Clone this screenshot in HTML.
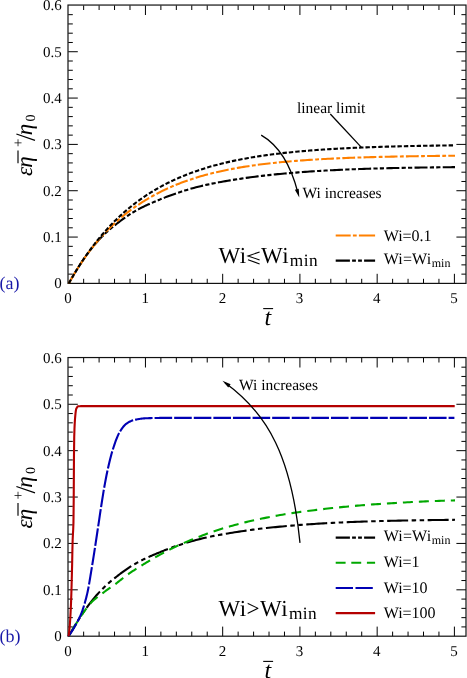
<!DOCTYPE html>
<html><head><meta charset="utf-8"><title>chart</title>
<style>html,body{margin:0;padding:0;background:#fff;overflow:hidden}svg{display:block;will-change:transform}text{font-family:"Liberation Serif",serif;text-rendering:geometricPrecision}</style></head>
<body>
<svg width="467" height="678" viewBox="0 0 467 678">
<rect width="467" height="678" fill="#fff"/>
<g font-family="'Liberation Serif', serif">
<path d="M83.65,283.4v-4.6M83.65,5.4v4.6M99.1,283.4v-4.6M99.1,5.4v4.6M114.54,283.4v-4.6M114.54,5.4v4.6M129.99,283.4v-4.6M129.99,5.4v4.6M145.44,283.4v-9.6M145.44,5.4v9.6M160.89,283.4v-4.6M160.89,5.4v4.6M176.34,283.4v-4.6M176.34,5.4v4.6M191.78,283.4v-4.6M191.78,5.4v4.6M207.23,283.4v-4.6M207.23,5.4v4.6M222.68,283.4v-9.6M222.68,5.4v9.6M238.13,283.4v-4.6M238.13,5.4v4.6M253.58,283.4v-4.6M253.58,5.4v4.6M269.02,283.4v-4.6M269.02,5.4v4.6M284.47,283.4v-4.6M284.47,5.4v4.6M299.92,283.4v-9.6M299.92,5.4v9.6M315.37,283.4v-4.6M315.37,5.4v4.6M330.82,283.4v-4.6M330.82,5.4v4.6M346.26,283.4v-4.6M346.26,5.4v4.6M361.71,283.4v-4.6M361.71,5.4v4.6M377.16,283.4v-9.6M377.16,5.4v9.6M392.61,283.4v-4.6M392.61,5.4v4.6M408.06,283.4v-4.6M408.06,5.4v4.6M423.5,283.4v-4.6M423.5,5.4v4.6M438.95,283.4v-4.6M438.95,5.4v4.6M454.4,283.4v-9.6M454.4,5.4v9.6M68.2,274.13h4.6M466,274.13h-4.6M68.2,264.87h4.6M466,264.87h-4.6M68.2,255.6h4.6M466,255.6h-4.6M68.2,246.33h4.6M466,246.33h-4.6M68.2,237.07h9.6M466,237.07h-9.6M68.2,227.8h4.6M466,227.8h-4.6M68.2,218.53h4.6M466,218.53h-4.6M68.2,209.27h4.6M466,209.27h-4.6M68.2,200h4.6M466,200h-4.6M68.2,190.73h9.6M466,190.73h-9.6M68.2,181.47h4.6M466,181.47h-4.6M68.2,172.2h4.6M466,172.2h-4.6M68.2,162.93h4.6M466,162.93h-4.6M68.2,153.67h4.6M466,153.67h-4.6M68.2,144.4h9.6M466,144.4h-9.6M68.2,135.13h4.6M466,135.13h-4.6M68.2,125.87h4.6M466,125.87h-4.6M68.2,116.6h4.6M466,116.6h-4.6M68.2,107.33h4.6M466,107.33h-4.6M68.2,98.07h9.6M466,98.07h-9.6M68.2,88.8h4.6M466,88.8h-4.6M68.2,79.53h4.6M466,79.53h-4.6M68.2,70.27h4.6M466,70.27h-4.6M68.2,61h4.6M466,61h-4.6M68.2,51.73h9.6M466,51.73h-9.6M68.2,42.47h4.6M466,42.47h-4.6M68.2,33.2h4.6M466,33.2h-4.6M68.2,23.93h4.6M466,23.93h-4.6M68.2,14.67h4.6M466,14.67h-4.6" stroke="#000" stroke-width="1.0" fill="none"/>
<rect x="68" y="5.05" width="398" height="278.35" fill="none" stroke="#111" stroke-width="1.2"/>
<text x="67.9" y="303.4" font-size="15" text-anchor="middle" fill="#000">0</text>
<text x="145.14" y="303.4" font-size="15" text-anchor="middle" fill="#000">1</text>
<text x="222.38" y="303.4" font-size="15" text-anchor="middle" fill="#000">2</text>
<text x="299.62" y="303.4" font-size="15" text-anchor="middle" fill="#000">3</text>
<text x="376.86" y="303.4" font-size="15" text-anchor="middle" fill="#000">4</text>
<text x="454.1" y="303.4" font-size="15" text-anchor="middle" fill="#000">5</text>
<text x="61.8" y="288.4" font-size="15" text-anchor="end" fill="#000">0</text>
<text x="61.8" y="242.07" font-size="15" text-anchor="end" fill="#000">0.1</text>
<text x="61.8" y="195.73" font-size="15" text-anchor="end" fill="#000">0.2</text>
<text x="61.8" y="149.4" font-size="15" text-anchor="end" fill="#000">0.3</text>
<text x="61.8" y="103.07" font-size="15" text-anchor="end" fill="#000">0.4</text>
<text x="61.8" y="56.73" font-size="15" text-anchor="end" fill="#000">0.5</text>
<text x="61.8" y="10.4" font-size="15" text-anchor="end" fill="#000">0.6</text>
<text x="267.8" y="324.7" font-size="24" text-anchor="middle" fill="#000" font-style="italic">t</text>
<line x1="263.2" y1="308.6" x2="273.1" y2="308.6" stroke="#000" stroke-width="1.1"/>
<g transform="translate(32.3,175.4) rotate(-90)">
<text x="-0.5" y="0" font-size="23" font-style="italic">ε</text>
<text x="7.7" y="0" font-size="23" font-style="italic">η</text>
<line x1="12.2" y1="-14.3" x2="24.9" y2="-14.3" stroke="#000" stroke-width="1.15"/>
<text x="28.3" y="-9.0" font-size="15">+</text>
<line x1="35" y1="2.7" x2="41.4" y2="-15.9" stroke="#000" stroke-width="1.25"/>
<text x="40.1" y="0" font-size="23" font-style="italic">η</text>
<text x="54.0" y="2.7" font-size="14">0</text>
</g>
<g fill="none" stroke-width="2.1">
<path d="M68.8,283.4L69.06,282.93L69.32,282.47L69.58,282L69.84,281.54L70.1,281.08L70.36,280.62L70.62,280.16L70.88,279.7L71.14,279.25L71.4,278.8L71.66,278.34L71.92,277.89L72.18,277.45L72.45,277L72.71,276.55L72.97,276.11L73.23,275.67L73.49,275.23L73.75,274.79L74.01,274.35L74.27,273.91L74.53,273.48L74.79,273.05L75.05,272.61L75.31,272.18L75.57,271.75L75.83,271.33L76.09,270.9L76.35,270.48L76.61,270.06L76.87,269.63L77.13,269.21L77.39,268.8L77.65,268.38L77.91,267.96L78.17,267.55L78.43,267.14L78.69,266.73L78.95,266.32L79.21,265.91L79.47,265.5L79.74,265.1L80,264.69L80.26,264.29L80.52,263.89L80.78,263.49L81.04,263.09L81.3,262.7L81.56,262.3L81.82,261.91L82.08,261.52L82.34,261.14L82.6,260.75L82.86,260.37L83.12,259.98L83.38,259.6L83.64,259.23L83.9,258.85L84.16,258.48L84.42,258.1L84.68,257.73L84.94,257.36L85.2,256.99L85.46,256.63L85.72,256.26L85.98,255.9L86.24,255.54L86.5,255.18L86.76,254.82L87.03,254.47L87.29,254.11L87.55,253.76L87.81,253.41L88.07,253.06L88.33,252.71L88.59,252.36L88.85,252.02L89.11,251.67L89.37,251.33L89.63,250.99L89.89,250.65L90.15,250.31L90.41,249.97L90.67,249.64L90.93,249.3L91.19,248.97L91.45,248.63L91.71,248.3L91.97,247.97L92.69,247.07L93.41,246.19L94.13,245.32L94.85,244.46L95.56,243.62L96.28,242.8L97,241.98L97.72,241.18L98.44,240.39L99.16,239.61L99.88,238.85L100.59,238.09L101.31,237.35L102.03,236.61L102.75,235.89L103.47,235.17L104.19,234.47L104.91,233.77L105.62,233.08L106.34,232.4L107.06,231.75L107.78,231.1L108.5,230.47L109.22,229.85L109.93,229.25L110.65,228.65L111.37,228.06L112.09,227.47L112.81,226.89L113.53,226.32L114.25,225.75L114.96,225.18L115.68,224.61L116.4,224.04L117.12,223.48L117.84,222.92L118.56,222.36L119.28,221.81L119.99,221.26L120.71,220.72L121.43,220.18L122.15,219.65L122.87,219.12L123.59,218.6L124.31,218.09L125.02,217.58L125.74,217.07L126.46,216.58L127.18,216.09L127.9,215.6L128.62,215.13L129.33,214.66L130.05,214.2L130.77,213.74L131.49,213.3L132.21,212.86L132.93,212.43L133.65,212L134.36,211.58L135.08,211.17L135.8,210.76L136.52,210.36L137.24,209.97L137.96,209.57L138.68,209.18L139.39,208.8L140.11,208.42L140.83,208.04L141.55,207.67L142.27,207.3L142.99,206.94L143.7,206.59L144.42,206.24L145.14,205.89L145.86,205.55L146.58,205.22L147.3,204.89L148.02,204.56L148.73,204.24L149.45,203.92L150.17,203.61L150.89,203.29L151.61,202.98L152.33,202.68L153.05,202.37L153.76,202.07L154.48,201.77L155.2,201.47L155.92,201.17L156.64,200.87L157.36,200.57L158.08,200.28L158.79,199.98L159.51,199.68L160.23,199.39L160.95,199.09L161.67,198.8L162.39,198.5L163.1,198.21L163.82,197.92L164.54,197.64L165.26,197.36L165.98,197.08L166.7,196.8L167.42,196.52L168.13,196.25L168.85,195.98L169.57,195.71L170.29,195.44L171.01,195.18L171.73,194.91L172.45,194.66L173.16,194.4L173.88,194.14L174.6,193.89L175.32,193.64L176.04,193.39L176.76,193.14L177.47,192.9L178.19,192.66L178.91,192.42L179.63,192.18L180.35,191.95L181.07,191.71L181.79,191.48L182.5,191.25L183.22,191.03L183.94,190.8L184.66,190.58L186.93,189.89L189.2,189.22L191.48,188.57L193.75,187.94L196.02,187.34L198.29,186.75L200.56,186.18L202.83,185.64L205.11,185.11L207.38,184.61L209.65,184.12L211.92,183.65L214.19,183.2L216.46,182.76L218.74,182.33L221.01,181.92L223.28,181.52L225.55,181.13L227.82,180.75L230.1,180.37L232.37,180.01L234.64,179.64L236.91,179.29L239.18,178.94L241.45,178.59L243.73,178.24L246,177.91L248.27,177.59L250.54,177.28L252.81,176.98L255.08,176.68L257.36,176.4L259.63,176.12L261.9,175.85L264.17,175.59L266.44,175.34L268.72,175.09L270.99,174.85L273.26,174.62L275.53,174.39L277.8,174.17L280.07,173.96L282.35,173.75L284.62,173.54L286.89,173.34L289.16,173.14L291.43,172.95L293.7,172.76L295.98,172.58L298.25,172.4L300.52,172.22L302.79,172.05L305.06,171.88L307.34,171.72L309.61,171.56L311.88,171.41L314.15,171.26L316.42,171.11L318.69,170.97L320.97,170.83L323.24,170.7L325.51,170.57L327.78,170.44L330.05,170.32L332.32,170.2L334.6,170.09L336.87,169.98L339.14,169.87L341.41,169.76L343.68,169.66L345.96,169.56L348.23,169.46L350.5,169.37L352.77,169.28L355.04,169.19L357.31,169.11L359.59,169.02L361.86,168.94L364.13,168.87L366.4,168.79L368.67,168.72L370.94,168.65L373.22,168.58L375.49,168.51L377.76,168.45L380.03,168.39L382.3,168.33L384.58,168.27L386.85,168.21L389.12,168.16L391.39,168.1L393.66,168.05L395.93,168L398.21,167.96L400.48,167.91L402.75,167.87L405.02,167.82L407.29,167.78L409.56,167.74L411.84,167.7L414.11,167.66L416.38,167.63L418.65,167.59L420.92,167.56L423.2,167.52L425.47,167.49L427.74,167.46L430.01,167.43L432.28,167.4L434.55,167.37L436.83,167.34L439.1,167.31L441.37,167.29L443.64,167.26L445.91,167.23L448.18,167.21L450.46,167.19L452.73,167.16L455,167.14" stroke="#000" stroke-dasharray="13 2.3 4.2 2.2 4.2 2.3" stroke-dashoffset="10"/>
<path d="M68.8,283.4L69.06,282.93L69.32,282.47L69.58,282.01L69.84,281.55L70.1,281.09L70.36,280.63L70.62,280.17L70.88,279.72L71.14,279.27L71.4,278.82L71.66,278.37L71.92,277.92L72.18,277.48L72.45,277.03L72.71,276.59L72.97,276.15L73.23,275.71L73.49,275.27L73.75,274.83L74.01,274.4L74.27,273.97L74.53,273.54L74.79,273.11L75.05,272.68L75.31,272.25L75.57,271.83L75.83,271.4L76.09,270.98L76.35,270.56L76.61,270.14L76.87,269.73L77.13,269.31L77.39,268.9L77.65,268.48L77.91,268.07L78.17,267.66L78.43,267.25L78.69,266.85L78.95,266.44L79.21,266.04L79.47,265.63L79.74,265.23L80,264.83L80.26,264.44L80.52,264.04L80.78,263.64L81.04,263.25L81.3,262.86L81.56,262.47L81.82,262.08L82.08,261.69L82.34,261.3L82.6,260.91L82.86,260.53L83.12,260.15L83.38,259.77L83.64,259.39L83.9,259.01L84.16,258.63L84.42,258.25L84.68,257.88L84.94,257.5L85.2,257.13L85.46,256.76L85.72,256.39L85.98,256.03L86.24,255.66L86.5,255.3L86.76,254.93L87.03,254.57L87.29,254.21L87.55,253.85L87.81,253.5L88.07,253.14L88.33,252.79L88.59,252.43L88.85,252.08L89.11,251.73L89.37,251.38L89.63,251.04L89.89,250.69L90.15,250.34L90.41,250L90.67,249.66L90.93,249.32L91.19,248.98L91.45,248.64L91.71,248.3L91.97,247.97L92.69,247.05L93.41,246.14L94.13,245.24L94.85,244.35L95.56,243.47L96.28,242.6L97,241.73L97.72,240.88L98.44,240.03L99.16,239.2L99.88,238.37L100.59,237.55L101.31,236.74L102.03,235.94L102.75,235.15L103.47,234.37L104.19,233.59L104.91,232.83L105.62,232.07L106.34,231.33L107.06,230.59L107.78,229.86L108.5,229.13L109.22,228.42L109.93,227.71L110.65,227.01L111.37,226.32L112.09,225.63L112.81,224.95L113.53,224.28L114.25,223.61L114.96,222.95L115.68,222.29L116.4,221.65L117.12,221.01L117.84,220.38L118.56,219.75L119.28,219.13L119.99,218.52L120.71,217.91L121.43,217.31L122.15,216.72L122.87,216.13L123.59,215.55L124.31,214.97L125.02,214.4L125.74,213.84L126.46,213.28L127.18,212.72L127.9,212.18L128.62,211.63L129.33,211.09L130.05,210.56L130.77,210.02L131.49,209.5L132.21,208.98L132.93,208.46L133.65,207.95L134.36,207.45L135.08,206.95L135.8,206.45L136.52,205.96L137.24,205.47L137.96,204.99L138.68,204.51L139.39,204.04L140.11,203.57L140.83,203.1L141.55,202.64L142.27,202.19L142.99,201.73L143.7,201.28L144.42,200.84L145.14,200.4L145.86,199.96L146.58,199.53L147.3,199.1L148.02,198.67L148.73,198.25L149.45,197.83L150.17,197.41L150.89,197L151.61,196.59L152.33,196.19L153.05,195.79L153.76,195.39L154.48,195L155.2,194.61L155.92,194.22L156.64,193.84L157.36,193.46L158.08,193.08L158.79,192.71L159.51,192.34L160.23,191.98L160.95,191.62L161.67,191.26L162.39,190.91L163.1,190.56L163.82,190.21L164.54,189.87L165.26,189.53L165.98,189.19L166.7,188.86L167.42,188.53L168.13,188.2L168.85,187.88L169.57,187.56L170.29,187.24L171.01,186.93L171.73,186.62L172.45,186.31L173.16,186.01L173.88,185.71L174.6,185.41L175.32,185.11L176.04,184.82L176.76,184.53L177.47,184.24L178.19,183.96L178.91,183.68L179.63,183.4L180.35,183.12L181.07,182.85L181.79,182.58L182.5,182.31L183.22,182.04L183.94,181.78L184.66,181.52L186.93,180.71L189.2,179.93L191.48,179.17L193.75,178.44L196.02,177.72L198.29,177.03L200.56,176.36L202.83,175.71L205.11,175.08L207.38,174.47L209.65,173.88L211.92,173.31L214.19,172.75L216.46,172.21L218.74,171.69L221.01,171.18L223.28,170.69L225.55,170.21L227.82,169.75L230.1,169.3L232.37,168.87L234.64,168.45L236.91,168.04L239.18,167.64L241.45,167.26L243.73,166.89L246,166.53L248.27,166.18L250.54,165.84L252.81,165.51L255.08,165.19L257.36,164.88L259.63,164.58L261.9,164.29L264.17,164.01L266.44,163.74L268.72,163.47L270.99,163.22L273.26,162.97L275.53,162.73L277.8,162.49L280.07,162.27L282.35,162.05L284.62,161.83L286.89,161.63L289.16,161.43L291.43,161.23L293.7,161.04L295.98,160.86L298.25,160.68L300.52,160.51L302.79,160.35L305.06,160.19L307.34,160.03L309.61,159.88L311.88,159.73L314.15,159.59L316.42,159.45L318.69,159.32L320.97,159.19L323.24,159.06L325.51,158.94L327.78,158.82L330.05,158.71L332.32,158.59L334.6,158.49L336.87,158.38L339.14,158.28L341.41,158.18L343.68,158.09L345.96,157.99L348.23,157.9L350.5,157.82L352.77,157.73L355.04,157.65L357.31,157.57L359.59,157.5L361.86,157.42L364.13,157.35L366.4,157.28L368.67,157.21L370.94,157.15L373.22,157.08L375.49,157.02L377.76,156.96L380.03,156.9L382.3,156.85L384.58,156.79L386.85,156.74L389.12,156.69L391.39,156.64L393.66,156.59L395.93,156.54L398.21,156.5L400.48,156.45L402.75,156.41L405.02,156.37L407.29,156.33L409.56,156.29L411.84,156.25L414.11,156.22L416.38,156.18L418.65,156.15L420.92,156.11L423.2,156.08L425.47,156.05L427.74,156.02L430.01,155.99L432.28,155.96L434.55,155.93L436.83,155.91L439.1,155.88L441.37,155.86L443.64,155.83L445.91,155.81L448.18,155.79L450.46,155.76L452.73,155.74L455,155.72" stroke="#ff8000" stroke-dasharray="12.8 2.4 3.8 2.2"/>
<path d="M68.8,283.4L69.06,282.93L69.32,282.47L69.58,282L69.84,281.54L70.1,281.08L70.36,280.62L70.62,280.16L70.88,279.7L71.14,279.25L71.4,278.79L71.66,278.34L71.92,277.89L72.18,277.44L72.45,276.99L72.71,276.55L72.97,276.1L73.23,275.66L73.49,275.22L73.75,274.78L74.01,274.34L74.27,273.9L74.53,273.47L74.79,273.03L75.05,272.6L75.31,272.17L75.57,271.74L75.83,271.31L76.09,270.88L76.35,270.46L76.61,270.03L76.87,269.61L77.13,269.19L77.39,268.77L77.65,268.35L77.91,267.93L78.17,267.52L78.43,267.1L78.69,266.69L78.95,266.28L79.21,265.87L79.47,265.46L79.74,265.05L80,264.64L80.26,264.24L80.52,263.84L80.78,263.44L81.04,263.03L81.3,262.64L81.56,262.24L81.82,261.84L82.08,261.45L82.34,261.05L82.6,260.66L82.86,260.27L83.12,259.88L83.38,259.49L83.64,259.1L83.9,258.72L84.16,258.33L84.42,257.95L84.68,257.57L84.94,257.19L85.2,256.81L85.46,256.43L85.72,256.05L85.98,255.67L86.24,255.3L86.5,254.93L86.76,254.56L87.03,254.18L87.29,253.82L87.55,253.45L87.81,253.08L88.07,252.71L88.33,252.35L88.59,251.99L88.85,251.62L89.11,251.26L89.37,250.9L89.63,250.55L89.89,250.19L90.15,249.83L90.41,249.48L90.67,249.12L90.93,248.77L91.19,248.42L91.45,248.07L91.71,247.72L91.97,247.37L92.69,246.42L93.41,245.48L94.13,244.54L94.85,243.61L95.56,242.69L96.28,241.78L97,240.88L97.72,239.99L98.44,239.1L99.16,238.23L99.88,237.36L100.59,236.5L101.31,235.64L102.03,234.8L102.75,233.96L103.47,233.13L104.19,232.31L104.91,231.5L105.62,230.69L106.34,229.89L107.06,229.1L107.78,228.32L108.5,227.54L109.22,226.77L109.93,226.01L110.65,225.25L111.37,224.5L112.09,223.76L112.81,223.03L113.53,222.3L114.25,221.58L114.96,220.86L115.68,220.15L116.4,219.45L117.12,218.76L117.84,218.07L118.56,217.39L119.28,216.71L119.99,216.04L120.71,215.38L121.43,214.72L122.15,214.07L122.87,213.43L123.59,212.79L124.31,212.15L125.02,211.53L125.74,210.9L126.46,210.29L127.18,209.68L127.9,209.07L128.62,208.48L129.33,207.88L130.05,207.29L130.77,206.71L131.49,206.13L132.21,205.56L132.93,205L133.65,204.44L134.36,203.88L135.08,203.33L135.8,202.78L136.52,202.24L137.24,201.71L137.96,201.18L138.68,200.65L139.39,200.13L140.11,199.61L140.83,199.1L141.55,198.6L142.27,198.09L142.99,197.6L143.7,197.1L144.42,196.62L145.14,196.13L145.86,195.65L146.58,195.18L147.3,194.71L148.02,194.24L148.73,193.78L149.45,193.32L150.17,192.87L150.89,192.42L151.61,191.98L152.33,191.54L153.05,191.1L153.76,190.67L154.48,190.24L155.2,189.82L155.92,189.4L156.64,188.98L157.36,188.57L158.08,188.16L158.79,187.75L159.51,187.35L160.23,186.95L160.95,186.56L161.67,186.17L162.39,185.78L163.1,185.4L163.82,185.02L164.54,184.64L165.26,184.27L165.98,183.9L166.7,183.54L167.42,183.17L168.13,182.81L168.85,182.46L169.57,182.11L170.29,181.76L171.01,181.41L171.73,181.07L172.45,180.73L173.16,180.39L173.88,180.06L174.6,179.73L175.32,179.4L176.04,179.08L176.76,178.76L177.47,178.44L178.19,178.12L178.91,177.81L179.63,177.5L180.35,177.2L181.07,176.89L181.79,176.59L182.5,176.29L183.22,176L183.94,175.7L184.66,175.42L186.93,174.52L189.2,173.64L191.48,172.8L193.75,171.97L196.02,171.17L198.29,170.4L200.56,169.64L202.83,168.91L205.11,168.2L207.38,167.51L209.65,166.84L211.92,166.19L214.19,165.56L216.46,164.95L218.74,164.35L221.01,163.77L223.28,163.21L225.55,162.67L227.82,162.14L230.1,161.62L232.37,161.12L234.64,160.64L236.91,160.17L239.18,159.71L241.45,159.27L243.73,158.84L246,158.42L248.27,158.01L250.54,157.62L252.81,157.23L255.08,156.86L257.36,156.5L259.63,156.15L261.9,155.81L264.17,155.48L266.44,155.16L268.72,154.85L270.99,154.54L273.26,154.25L275.53,153.96L277.8,153.69L280.07,153.42L282.35,153.16L284.62,152.9L286.89,152.66L289.16,152.42L291.43,152.18L293.7,151.96L295.98,151.74L298.25,151.53L300.52,151.32L302.79,151.12L305.06,150.93L307.34,150.74L309.61,150.55L311.88,150.37L314.15,150.2L316.42,150.03L318.69,149.87L320.97,149.71L323.24,149.56L325.51,149.41L327.78,149.26L330.05,149.12L332.32,148.98L334.6,148.85L336.87,148.72L339.14,148.6L341.41,148.48L343.68,148.36L345.96,148.24L348.23,148.13L350.5,148.02L352.77,147.92L355.04,147.82L357.31,147.72L359.59,147.62L361.86,147.53L364.13,147.44L366.4,147.35L368.67,147.26L370.94,147.18L373.22,147.1L375.49,147.02L377.76,146.95L380.03,146.87L382.3,146.8L384.58,146.73L386.85,146.66L389.12,146.6L391.39,146.53L393.66,146.47L395.93,146.41L398.21,146.35L400.48,146.3L402.75,146.24L405.02,146.19L407.29,146.14L409.56,146.09L411.84,146.04L414.11,145.99L416.38,145.94L418.65,145.9L420.92,145.86L423.2,145.81L425.47,145.77L427.74,145.73L430.01,145.69L432.28,145.66L434.55,145.62L436.83,145.59L439.1,145.55L441.37,145.52L443.64,145.48L445.91,145.45L448.18,145.42L450.46,145.39L452.73,145.36L455,145.34" stroke="#000" stroke-dasharray="4.4 2"/>
</g>
<text x="296.9" y="112.5" font-size="15.5" text-anchor="start" fill="#000">linear limit</text>
<line x1="330.3" y1="114" x2="361.4" y2="147.4" stroke="#000" stroke-width="1.3"/>
<path d="M261.2,135.1 Q287,150 298,193" fill="none" stroke="#000" stroke-width="1.3"/>
<path d="M299.3,197.5L294.87,189.86L298.7,188.69Z" fill="#000"/>
<text x="302.6" y="197.6" font-size="15.5" text-anchor="start" fill="#000">Wi increases</text>
<text x="218.5" y="263.4" font-size="23" letter-spacing="0.45">Wi</text>
<path d="M259.61,252L248.01,255.9L259.61,260M248.01,259.8L259.61,263.9" fill="none" stroke="#000" stroke-width="1.1"/>
<text x="260.93" y="263.4" font-size="23" letter-spacing="0.45">Wi<tspan dx="0.8" dy="2.5" font-size="17.3">min</tspan></text>
<text x="-0.4" y="289.4" font-size="18" text-anchor="start" fill="#1818a8">(a)</text>
<line x1="335.7" y1="235.5" x2="375.1" y2="235.5" stroke="#ff8000" stroke-width="2.1" stroke-dasharray="15 2.2 3.8 2.2 16 0"/>
<text x="383.7" y="240.7" font-size="16" text-anchor="start" fill="#000">Wi=0.1</text>
<line x1="335.7" y1="260.6" x2="375.1" y2="260.6" stroke="#000" stroke-width="2.1" stroke-dasharray="14.2 2.2 3.8 2.2 3.8 2.2 11 0"/>
<text x="383.7" y="263.8" font-size="16" letter-spacing="0.15">Wi=Wi<tspan dx="0.5" dy="3" font-size="12" letter-spacing="0">min</tspan></text>
<path d="M83.65,636.2v-4.6M83.65,357.9v4.6M99.1,636.2v-4.6M99.1,357.9v4.6M114.54,636.2v-4.6M114.54,357.9v4.6M129.99,636.2v-4.6M129.99,357.9v4.6M145.44,636.2v-9.6M145.44,357.9v9.6M160.89,636.2v-4.6M160.89,357.9v4.6M176.34,636.2v-4.6M176.34,357.9v4.6M191.78,636.2v-4.6M191.78,357.9v4.6M207.23,636.2v-4.6M207.23,357.9v4.6M222.68,636.2v-9.6M222.68,357.9v9.6M238.13,636.2v-4.6M238.13,357.9v4.6M253.58,636.2v-4.6M253.58,357.9v4.6M269.02,636.2v-4.6M269.02,357.9v4.6M284.47,636.2v-4.6M284.47,357.9v4.6M299.92,636.2v-9.6M299.92,357.9v9.6M315.37,636.2v-4.6M315.37,357.9v4.6M330.82,636.2v-4.6M330.82,357.9v4.6M346.26,636.2v-4.6M346.26,357.9v4.6M361.71,636.2v-4.6M361.71,357.9v4.6M377.16,636.2v-9.6M377.16,357.9v9.6M392.61,636.2v-4.6M392.61,357.9v4.6M408.06,636.2v-4.6M408.06,357.9v4.6M423.5,636.2v-4.6M423.5,357.9v4.6M438.95,636.2v-4.6M438.95,357.9v4.6M454.4,636.2v-9.6M454.4,357.9v9.6M68.2,626.92h4.6M466,626.92h-4.6M68.2,617.65h4.6M466,617.65h-4.6M68.2,608.37h4.6M466,608.37h-4.6M68.2,599.09h4.6M466,599.09h-4.6M68.2,589.82h9.6M466,589.82h-9.6M68.2,580.54h4.6M466,580.54h-4.6M68.2,571.26h4.6M466,571.26h-4.6M68.2,561.99h4.6M466,561.99h-4.6M68.2,552.71h4.6M466,552.71h-4.6M68.2,543.43h9.6M466,543.43h-9.6M68.2,534.16h4.6M466,534.16h-4.6M68.2,524.88h4.6M466,524.88h-4.6M68.2,515.6h4.6M466,515.6h-4.6M68.2,506.33h4.6M466,506.33h-4.6M68.2,497.05h9.6M466,497.05h-9.6M68.2,487.77h4.6M466,487.77h-4.6M68.2,478.5h4.6M466,478.5h-4.6M68.2,469.22h4.6M466,469.22h-4.6M68.2,459.94h4.6M466,459.94h-4.6M68.2,450.67h9.6M466,450.67h-9.6M68.2,441.39h4.6M466,441.39h-4.6M68.2,432.11h4.6M466,432.11h-4.6M68.2,422.84h4.6M466,422.84h-4.6M68.2,413.56h4.6M466,413.56h-4.6M68.2,404.28h9.6M466,404.28h-9.6M68.2,395.01h4.6M466,395.01h-4.6M68.2,385.73h4.6M466,385.73h-4.6M68.2,376.45h4.6M466,376.45h-4.6M68.2,367.18h4.6M466,367.18h-4.6" stroke="#000" stroke-width="1.0" fill="none"/>
<rect x="68" y="357.55" width="398" height="278.65" fill="none" stroke="#111" stroke-width="1.2"/>
<text x="67.9" y="656.2" font-size="15" text-anchor="middle" fill="#000">0</text>
<text x="145.14" y="656.2" font-size="15" text-anchor="middle" fill="#000">1</text>
<text x="222.38" y="656.2" font-size="15" text-anchor="middle" fill="#000">2</text>
<text x="299.62" y="656.2" font-size="15" text-anchor="middle" fill="#000">3</text>
<text x="376.86" y="656.2" font-size="15" text-anchor="middle" fill="#000">4</text>
<text x="454.1" y="656.2" font-size="15" text-anchor="middle" fill="#000">5</text>
<text x="61.8" y="641.2" font-size="15" text-anchor="end" fill="#000">0</text>
<text x="61.8" y="594.82" font-size="15" text-anchor="end" fill="#000">0.1</text>
<text x="61.8" y="548.43" font-size="15" text-anchor="end" fill="#000">0.2</text>
<text x="61.8" y="502.05" font-size="15" text-anchor="end" fill="#000">0.3</text>
<text x="61.8" y="455.67" font-size="15" text-anchor="end" fill="#000">0.4</text>
<text x="61.8" y="409.28" font-size="15" text-anchor="end" fill="#000">0.5</text>
<text x="61.8" y="362.9" font-size="15" text-anchor="end" fill="#000">0.6</text>
<text x="267.8" y="677.5" font-size="24" text-anchor="middle" fill="#000" font-style="italic">t</text>
<line x1="263.2" y1="661.4" x2="273.1" y2="661.4" stroke="#000" stroke-width="1.1"/>
<g transform="translate(32.3,527.9) rotate(-90)">
<text x="-0.5" y="0" font-size="23" font-style="italic">ε</text>
<text x="7.7" y="0" font-size="23" font-style="italic">η</text>
<line x1="12.2" y1="-14.3" x2="24.9" y2="-14.3" stroke="#000" stroke-width="1.15"/>
<text x="28.3" y="-9.0" font-size="15">+</text>
<line x1="35" y1="2.7" x2="41.4" y2="-15.9" stroke="#000" stroke-width="1.25"/>
<text x="40.1" y="0" font-size="23" font-style="italic">η</text>
<text x="54.0" y="2.7" font-size="14">0</text>
</g>
<g fill="none" stroke-width="2.1">
<path d="M68.8,636.2L69.06,635.73L69.32,635.27L69.58,634.8L69.84,634.34L70.1,633.88L70.36,633.42L70.62,632.96L70.88,632.5L71.14,632.04L71.4,631.59L71.66,631.14L71.92,630.69L72.18,630.24L72.45,629.79L72.71,629.35L72.97,628.9L73.23,628.46L73.49,628.02L73.75,627.58L74.01,627.14L74.27,626.7L74.53,626.27L74.79,625.83L75.05,625.4L75.31,624.97L75.57,624.54L75.83,624.11L76.09,623.69L76.35,623.26L76.61,622.84L76.87,622.42L77.13,622L77.39,621.58L77.65,621.16L77.91,620.75L78.17,620.33L78.43,619.92L78.69,619.51L78.95,619.1L79.21,618.69L79.47,618.28L79.74,617.88L80,617.47L80.26,617.07L80.52,616.67L80.78,616.27L81.04,615.87L81.3,615.47L81.56,615.08L81.82,614.69L82.08,614.3L82.34,613.91L82.6,613.53L82.86,613.14L83.12,612.76L83.38,612.38L83.64,612L83.9,611.62L84.16,611.25L84.42,610.88L84.68,610.5L84.94,610.13L85.2,609.77L85.46,609.4L85.72,609.03L85.98,608.67L86.24,608.31L86.5,607.95L86.76,607.59L87.03,607.24L87.29,606.88L87.55,606.53L87.81,606.18L88.07,605.82L88.33,605.48L88.59,605.13L88.85,604.78L89.11,604.44L89.37,604.09L89.63,603.75L89.89,603.41L90.15,603.07L90.41,602.74L90.67,602.4L90.93,602.06L91.19,601.73L91.45,601.4L91.71,601.07L91.97,600.74L92.69,599.83L93.41,598.95L94.13,598.08L94.85,597.22L95.56,596.38L96.28,595.55L97,594.74L97.72,593.93L98.44,593.15L99.16,592.37L99.88,591.6L100.59,590.85L101.31,590.1L102.03,589.36L102.75,588.64L103.47,587.92L104.19,587.21L104.91,586.51L105.62,585.82L106.34,585.15L107.06,584.49L107.78,583.85L108.5,583.22L109.22,582.6L109.93,581.99L110.65,581.39L111.37,580.8L112.09,580.21L112.81,579.63L113.53,579.06L114.25,578.49L114.96,577.92L115.68,577.35L116.4,576.78L117.12,576.21L117.84,575.65L118.56,575.1L119.28,574.54L119.99,574L120.71,573.45L121.43,572.92L122.15,572.38L122.87,571.85L123.59,571.33L124.31,570.82L125.02,570.31L125.74,569.8L126.46,569.31L127.18,568.82L127.9,568.33L128.62,567.85L129.33,567.39L130.05,566.92L130.77,566.47L131.49,566.02L132.21,565.58L132.93,565.15L133.65,564.73L134.36,564.31L135.08,563.89L135.8,563.49L136.52,563.08L137.24,562.69L137.96,562.29L138.68,561.9L139.39,561.52L140.11,561.14L140.83,560.76L141.55,560.39L142.27,560.02L142.99,559.66L143.7,559.3L144.42,558.95L145.14,558.61L145.86,558.27L146.58,557.93L147.3,557.6L148.02,557.28L148.73,556.95L149.45,556.64L150.17,556.32L150.89,556.01L151.61,555.7L152.33,555.39L153.05,555.08L153.76,554.78L154.48,554.48L155.2,554.18L155.92,553.88L156.64,553.58L157.36,553.28L158.08,552.99L158.79,552.69L159.51,552.39L160.23,552.1L160.95,551.8L161.67,551.5L162.39,551.21L163.1,550.92L163.82,550.63L164.54,550.35L165.26,550.06L165.98,549.78L166.7,549.5L167.42,549.23L168.13,548.95L168.85,548.68L169.57,548.41L170.29,548.15L171.01,547.88L171.73,547.62L172.45,547.36L173.16,547.1L173.88,546.85L174.6,546.59L175.32,546.34L176.04,546.09L176.76,545.85L177.47,545.6L178.19,545.36L178.91,545.12L179.63,544.88L180.35,544.65L181.07,544.41L181.79,544.18L182.5,543.95L183.22,543.73L183.94,543.5L184.66,543.28L186.93,542.59L189.2,541.92L191.48,541.27L193.75,540.64L196.02,540.03L198.29,539.45L200.56,538.88L202.83,538.33L205.11,537.81L207.38,537.3L209.65,536.81L211.92,536.34L214.19,535.89L216.46,535.45L218.74,535.02L221.01,534.61L223.28,534.21L225.55,533.82L227.82,533.44L230.1,533.06L232.37,532.69L234.64,532.33L236.91,531.98L239.18,531.62L241.45,531.27L243.73,530.93L246,530.6L248.27,530.28L250.54,529.96L252.81,529.66L255.08,529.37L257.36,529.08L259.63,528.81L261.9,528.54L264.17,528.28L266.44,528.02L268.72,527.78L270.99,527.54L273.26,527.3L275.53,527.08L277.8,526.85L280.07,526.64L282.35,526.43L284.62,526.22L286.89,526.02L289.16,525.82L291.43,525.63L293.7,525.44L295.98,525.26L298.25,525.08L300.52,524.9L302.79,524.73L305.06,524.56L307.34,524.4L309.61,524.24L311.88,524.08L314.15,523.93L316.42,523.79L318.69,523.65L320.97,523.51L323.24,523.38L325.51,523.25L327.78,523.12L330.05,523L332.32,522.88L334.6,522.77L336.87,522.65L339.14,522.55L341.41,522.44L343.68,522.34L345.96,522.24L348.23,522.14L350.5,522.05L352.77,521.96L355.04,521.87L357.31,521.78L359.59,521.7L361.86,521.62L364.13,521.54L366.4,521.47L368.67,521.39L370.94,521.32L373.22,521.25L375.49,521.19L377.76,521.12L380.03,521.06L382.3,521L384.58,520.94L386.85,520.89L389.12,520.83L391.39,520.78L393.66,520.73L395.93,520.68L398.21,520.63L400.48,520.59L402.75,520.54L405.02,520.5L407.29,520.46L409.56,520.42L411.84,520.38L414.11,520.34L416.38,520.3L418.65,520.27L420.92,520.23L423.2,520.2L425.47,520.17L427.74,520.13L430.01,520.1L432.28,520.07L434.55,520.04L436.83,520.02L439.1,519.99L441.37,519.96L443.64,519.93L445.91,519.91L448.18,519.88L450.46,519.86L452.73,519.84L455,519.81" stroke="#000" stroke-dasharray="21 3.5 4.5 3.5 4.5 3.5" stroke-dashoffset="7"/>
<path d="M68.8,636.2L69.06,635.73L69.32,635.27L69.58,634.81L69.84,634.35L70.1,633.89L70.36,633.43L70.62,632.97L70.88,632.52L71.14,632.06L71.4,631.61L71.66,631.16L71.92,630.71L72.18,630.27L72.45,629.82L72.71,629.38L72.97,628.94L73.23,628.5L73.49,628.06L73.75,627.62L74.01,627.19L74.27,626.75L74.53,626.32L74.79,625.89L75.05,625.46L75.31,625.04L75.57,624.61L75.83,624.19L76.09,623.77L76.35,623.35L76.61,622.93L76.87,622.52L77.13,622.1L77.39,621.69L77.65,621.27L77.91,620.86L78.17,620.45L78.43,620.04L78.69,619.63L78.95,619.22L79.21,618.81L79.47,618.41L79.74,618L80,617.6L80.26,617.2L80.52,616.8L80.78,616.41L81.04,616.01L81.3,615.62L81.56,615.23L81.82,614.85L82.08,614.46L82.34,614.08L82.6,613.7L82.86,613.33L83.12,612.96L83.38,612.59L83.64,612.22L83.9,611.86L84.16,611.5L84.42,611.15L84.68,610.79L84.94,610.44L85.2,610.08L85.46,609.73L85.72,609.38L85.98,609.02L86.24,608.67L86.5,608.33L86.76,607.98L87.03,607.63L87.29,607.29L87.55,606.95L87.81,606.62L88.07,606.28L88.33,605.95L88.59,605.62L88.85,605.3L89.11,604.98L89.37,604.66L89.63,604.35L89.89,604.05L90.15,603.74L90.41,603.45L90.67,603.16L90.93,602.87L91.19,602.59L91.45,602.31L91.71,602.05L91.97,601.78L92.69,601.09L93.41,600.42L94.13,599.79L94.85,599.18L95.56,598.59L96.28,598.02L97,597.46L97.72,596.91L98.44,596.35L99.16,595.8L99.88,595.24L100.59,594.69L101.31,594.14L102.03,593.6L102.75,593.07L103.47,592.54L104.19,592.01L104.91,591.49L105.62,590.97L106.34,590.45L107.06,589.94L107.78,589.42L108.5,588.91L109.22,588.41L109.93,587.91L110.65,587.42L111.37,586.92L112.09,586.42L112.81,585.92L113.53,585.42L114.25,584.91L114.96,584.38L115.68,583.85L116.4,583.3L117.12,582.74L117.84,582.18L118.56,581.61L119.28,581.04L119.99,580.46L120.71,579.89L121.43,579.33L122.15,578.77L122.87,578.22L123.59,577.68L124.31,577.14L125.02,576.59L125.74,576.06L126.46,575.52L127.18,574.99L127.9,574.47L128.62,573.95L129.33,573.44L130.05,572.93L130.77,572.44L131.49,571.95L132.21,571.47L132.93,570.99L133.65,570.51L134.36,570.04L135.08,569.57L135.8,569.11L136.52,568.64L137.24,568.19L137.96,567.73L138.68,567.28L139.39,566.83L140.11,566.38L140.83,565.94L141.55,565.5L142.27,565.06L142.99,564.62L143.7,564.18L144.42,563.75L145.14,563.32L145.86,562.88L146.58,562.45L147.3,562.02L148.02,561.59L148.73,561.16L149.45,560.73L150.17,560.31L150.89,559.88L151.61,559.46L152.33,559.04L153.05,558.61L153.76,558.2L154.48,557.78L155.2,557.36L155.92,556.95L156.64,556.54L157.36,556.13L158.08,555.73L158.79,555.32L159.51,554.92L160.23,554.52L160.95,554.13L161.67,553.74L162.39,553.35L163.1,552.96L163.82,552.58L164.54,552.2L165.26,551.83L165.98,551.46L166.7,551.09L167.42,550.72L168.13,550.35L168.85,549.99L169.57,549.63L170.29,549.27L171.01,548.91L171.73,548.55L172.45,548.2L173.16,547.85L173.88,547.5L174.6,547.15L175.32,546.81L176.04,546.47L176.76,546.13L177.47,545.79L178.19,545.46L178.91,545.13L179.63,544.8L180.35,544.48L181.07,544.16L181.79,543.84L182.5,543.52L183.22,543.21L183.94,542.9L184.66,542.6L186.93,541.64L189.2,540.7L191.48,539.77L193.75,538.85L196.02,537.94L198.29,537.04L200.56,536.16L202.83,535.29L205.11,534.44L207.38,533.61L209.65,532.79L211.92,532L214.19,531.22L216.46,530.46L218.74,529.72L221.01,529.01L223.28,528.31L225.55,527.64L227.82,526.98L230.1,526.33L232.37,525.69L234.64,525.07L236.91,524.46L239.18,523.86L241.45,523.27L243.73,522.7L246,522.14L248.27,521.59L250.54,521.06L252.81,520.54L255.08,520.03L257.36,519.53L259.63,519.04L261.9,518.57L264.17,518.11L266.44,517.65L268.72,517.2L270.99,516.76L273.26,516.33L275.53,515.9L277.8,515.48L280.07,515.08L282.35,514.68L284.62,514.29L286.89,513.91L289.16,513.55L291.43,513.19L293.7,512.85L295.98,512.52L298.25,512.2L300.52,511.89L302.79,511.6L305.06,511.3L307.34,511.01L309.61,510.73L311.88,510.44L314.15,510.17L316.42,509.89L318.69,509.62L320.97,509.35L323.24,509.09L325.51,508.83L327.78,508.57L330.05,508.32L332.32,508.07L334.6,507.83L336.87,507.59L339.14,507.36L341.41,507.13L343.68,506.9L345.96,506.68L348.23,506.46L350.5,506.25L352.77,506.05L355.04,505.84L357.31,505.65L359.59,505.45L361.86,505.27L364.13,505.08L366.4,504.91L368.67,504.74L370.94,504.57L373.22,504.41L375.49,504.25L377.76,504.1L380.03,503.95L382.3,503.81L384.58,503.66L386.85,503.52L389.12,503.38L391.39,503.24L393.66,503.1L395.93,502.96L398.21,502.82L400.48,502.69L402.75,502.56L405.02,502.43L407.29,502.31L409.56,502.18L411.84,502.06L414.11,501.94L416.38,501.83L418.65,501.71L420.92,501.6L423.2,501.5L425.47,501.39L427.74,501.29L430.01,501.19L432.28,501.1L434.55,501.01L436.83,500.93L439.1,500.84L441.37,500.77L443.64,500.69L445.91,500.62L448.18,500.56L450.46,500.5L452.73,500.44L455,500.39" stroke="#00a800" stroke-dasharray="10 6" stroke-dashoffset="9"/>
<path d="M68.2,636.2L68.46,635.89L68.72,635.57L68.98,635.25L69.24,634.92L69.5,634.58L69.76,634.23L70.02,633.89L70.28,633.53L70.54,633.17L70.8,632.8L71.06,632.43L71.32,632.05L71.58,631.67L71.85,631.28L72.11,630.89L72.37,630.49L72.63,630.08L72.89,629.66L73.15,629.24L73.41,628.8L73.67,628.36L73.93,627.91L74.19,627.46L74.45,627L74.71,626.54L74.97,626.08L75.23,625.62L75.49,625.15L75.75,624.68L76.01,624.22L76.27,623.75L76.53,623.28L76.79,622.81L77.05,622.34L77.31,621.86L77.57,621.37L77.83,620.88L78.09,620.39L78.35,619.89L78.61,619.38L78.87,618.86L79.14,618.33L79.4,617.8L79.66,617.26L79.92,616.71L80.18,616.16L80.44,615.58L80.7,615L80.96,614.39L81.22,613.75L81.48,613.1L81.74,612.41L82,611.71L82.26,610.98L82.52,610.23L82.78,609.46L83.04,608.67L83.3,607.86L83.56,607.03L83.82,606.19L84.08,605.33L84.34,604.46L84.6,603.57L84.86,602.68L85.12,601.76L85.38,600.83L85.64,599.87L85.9,598.9L86.16,597.9L86.43,596.87L86.69,595.82L86.95,594.73L87.21,593.62L87.47,592.47L87.73,591.28L87.99,590.03L88.25,588.72L88.51,587.34L88.77,585.9L89.03,584.42L89.29,582.91L89.55,581.36L89.81,579.79L90.07,578.21L90.33,576.62L90.59,575.03L90.85,573.46L91.11,571.9L91.37,570.33L92.09,565.94L92.81,561.46L93.53,556.91L94.25,552.33L94.96,547.69L95.68,542.99L96.4,538.25L97.12,533.48L97.84,528.7L98.56,523.9L99.28,519.04L99.99,514.18L100.71,509.39L101.43,504.73L102.15,500.1L102.87,495.55L103.59,491.17L104.31,487.04L105.02,483.07L105.74,479.24L106.46,475.56L107.18,472.06L107.9,468.75L108.62,465.56L109.33,462.47L110.05,459.48L110.77,456.64L111.49,453.97L112.21,451.49L112.93,449.2L113.65,446.98L114.36,444.82L115.08,442.73L115.8,440.73L116.52,438.83L117.24,437.04L117.96,435.39L118.68,433.87L119.39,432.52L120.11,431.32L120.83,430.2L121.55,429.12L122.27,428.11L122.99,427.16L123.71,426.28L124.42,425.47L125.14,424.74L125.86,424.09L126.58,423.52L127.3,423.04L128.02,422.6L128.73,422.18L129.45,421.79L130.17,421.44L130.89,421.11L131.61,420.81L132.33,420.55L133.05,420.31L133.76,420.11L134.48,419.94L135.2,419.78L135.92,419.62L136.64,419.46L137.36,419.32L138.08,419.18L138.79,419.05L139.51,418.93L140.23,418.81L140.95,418.71L141.67,418.61L142.39,418.53L143.1,418.45L143.82,418.39L144.54,418.34L145.26,418.3L145.98,418.27L146.7,418.24L147.42,418.21L148.13,418.18L148.85,418.16L149.57,418.13L150.29,418.11L151.01,418.08L151.73,418.06L152.45,418.04L153.16,418.02L153.88,418L154.6,417.99L155.32,417.97L156.04,417.96L156.76,417.95L157.48,417.94L158.19,417.93L158.91,417.93L159.63,417.92L160.35,417.92L161.07,417.92L161.79,417.92L162.5,417.92L163.22,417.92L163.94,417.92L164.66,417.92L165.38,417.92L166.1,417.92L166.82,417.92L167.53,417.92L168.25,417.92L168.97,417.92L169.69,417.92L170.41,417.92L171.13,417.92L171.85,417.92L172.56,417.92L173.28,417.92L174,417.92L174.72,417.92L175.44,417.92L176.16,417.92L176.87,417.92L177.59,417.92L178.31,417.92L179.03,417.92L179.75,417.92L180.47,417.92L181.19,417.92L181.9,417.92L182.62,417.92L183.34,417.92L184.06,417.92L186.33,417.92L188.6,417.92L190.88,417.92L193.15,417.92L195.42,417.92L197.69,417.92L199.96,417.92L202.23,417.92L204.51,417.92L206.78,417.92L209.05,417.92L211.32,417.92L213.59,417.92L215.86,417.92L218.14,417.92L220.41,417.92L222.68,417.92L224.95,417.92L227.22,417.92L229.5,417.92L231.77,417.92L234.04,417.92L236.31,417.92L238.58,417.92L240.85,417.92L243.13,417.92L245.4,417.92L247.67,417.92L249.94,417.92L252.21,417.92L254.48,417.92L256.76,417.92L259.03,417.92L261.3,417.92L263.57,417.92L265.84,417.92L268.12,417.92L270.39,417.92L272.66,417.92L274.93,417.92L277.2,417.92L279.47,417.92L281.75,417.92L284.02,417.92L286.29,417.92L288.56,417.92L290.83,417.92L293.1,417.92L295.38,417.92L297.65,417.92L299.92,417.92L302.19,417.92L304.46,417.92L306.74,417.92L309.01,417.92L311.28,417.92L313.55,417.92L315.82,417.92L318.09,417.92L320.37,417.92L322.64,417.92L324.91,417.92L327.18,417.92L329.45,417.92L331.72,417.92L334,417.92L336.27,417.92L338.54,417.92L340.81,417.92L343.08,417.92L345.36,417.92L347.63,417.92L349.9,417.92L352.17,417.92L354.44,417.92L356.71,417.92L358.99,417.92L361.26,417.92L363.53,417.92L365.8,417.92L368.07,417.92L370.34,417.92L372.62,417.92L374.89,417.92L377.16,417.92L379.43,417.92L381.7,417.92L383.98,417.92L386.25,417.92L388.52,417.92L390.79,417.92L393.06,417.92L395.33,417.92L397.61,417.92L399.88,417.92L402.15,417.92L404.42,417.92L406.69,417.92L408.96,417.92L411.24,417.92L413.51,417.92L415.78,417.92L418.05,417.92L420.32,417.92L422.6,417.92L424.87,417.92L427.14,417.92L429.41,417.92L431.68,417.92L433.95,417.92L436.23,417.92L438.5,417.92L440.77,417.92L443.04,417.92L445.31,417.92L447.58,417.92L449.86,417.92L452.13,417.92L454.4,417.92" stroke="#0000b4" stroke-dasharray="17.6 2" stroke-dashoffset="2.5"/>
<path d="M68.5,636.2L68.76,634.92L69.02,633.07L69.28,630.79L69.54,628.17L69.8,625.26L70.06,621.7L70.32,617.47L70.58,612.61L70.84,607.18L71.1,600.9L71.36,593.25L71.62,584.46L71.88,574.8L72.15,563.37L72.41,549.5L72.67,539.47L72.93,534.12L73.19,529.76L73.45,523.04L73.71,499.94L73.97,456.07L74.23,436.83L74.49,428.58L74.75,422.88L75.01,418.91L75.27,415.81L75.53,413.14L75.79,411L76.05,409.5L76.31,408.72L76.57,408.17L76.83,407.68L77.09,407.25L77.35,406.9L77.61,406.62L77.87,406.41L78.13,406.28L78.39,406.23L78.65,406.22L78.91,406.21L79.17,406.2L79.44,406.2L79.7,406.19L79.96,406.18L80.22,406.18L80.48,406.17L80.74,406.17L81,406.16L81.26,406.16L81.52,406.15L81.78,406.15L82.04,406.15L82.3,406.15L82.56,406.14L82.82,406.14L83.08,406.14L83.34,406.14L83.6,406.14L83.86,406.14L84.12,406.14L84.38,406.14L84.64,406.14L84.9,406.14L85.16,406.14L85.42,406.14L85.68,406.14L85.94,406.14L86.2,406.14L86.46,406.14L86.73,406.14L86.99,406.14L87.25,406.14L87.51,406.14L87.77,406.14L88.03,406.14L88.29,406.14L88.55,406.14L88.81,406.14L89.07,406.14L89.33,406.14L89.59,406.14L89.85,406.14L90.11,406.14L90.37,406.14L90.63,406.14L90.89,406.14L91.15,406.14L91.41,406.14L91.67,406.14L92.39,406.14L93.11,406.14L93.83,406.14L94.55,406.14L95.26,406.14L95.98,406.14L96.7,406.14L97.42,406.14L98.14,406.14L98.86,406.14L99.58,406.14L100.29,406.14L101.01,406.14L101.73,406.14L102.45,406.14L103.17,406.14L103.89,406.14L104.61,406.14L105.32,406.14L106.04,406.14L106.76,406.14L107.48,406.14L108.2,406.14L108.92,406.14L109.63,406.14L110.35,406.14L111.07,406.14L111.79,406.14L112.51,406.14L113.23,406.14L113.95,406.14L114.66,406.14L115.38,406.14L116.1,406.14L116.82,406.14L117.54,406.14L118.26,406.14L118.98,406.14L119.69,406.14L120.41,406.14L121.13,406.14L121.85,406.14L122.57,406.14L123.29,406.14L124.01,406.14L124.72,406.14L125.44,406.14L126.16,406.14L126.88,406.14L127.6,406.14L128.32,406.14L129.03,406.14L129.75,406.14L130.47,406.14L131.19,406.14L131.91,406.14L132.63,406.14L133.35,406.14L134.06,406.14L134.78,406.14L135.5,406.14L136.22,406.14L136.94,406.14L137.66,406.14L138.38,406.14L139.09,406.14L139.81,406.14L140.53,406.14L141.25,406.14L141.97,406.14L142.69,406.14L143.4,406.14L144.12,406.14L144.84,406.14L145.56,406.14L146.28,406.14L147,406.14L147.72,406.14L148.43,406.14L149.15,406.14L149.87,406.14L150.59,406.14L151.31,406.14L152.03,406.14L152.75,406.14L153.46,406.14L154.18,406.14L154.9,406.14L155.62,406.14L156.34,406.14L157.06,406.14L157.78,406.14L158.49,406.14L159.21,406.14L159.93,406.14L160.65,406.14L161.37,406.14L162.09,406.14L162.8,406.14L163.52,406.14L164.24,406.14L164.96,406.14L165.68,406.14L166.4,406.14L167.12,406.14L167.83,406.14L168.55,406.14L169.27,406.14L169.99,406.14L170.71,406.14L171.43,406.14L172.15,406.14L172.86,406.14L173.58,406.14L174.3,406.14L175.02,406.14L175.74,406.14L176.46,406.14L177.17,406.14L177.89,406.14L178.61,406.14L179.33,406.14L180.05,406.14L180.77,406.14L181.49,406.14L182.2,406.14L182.92,406.14L183.64,406.14L184.36,406.14L186.63,406.14L188.9,406.14L191.18,406.14L193.45,406.14L195.72,406.14L197.99,406.14L200.26,406.14L202.53,406.14L204.81,406.14L207.08,406.14L209.35,406.14L211.62,406.14L213.89,406.14L216.16,406.14L218.44,406.14L220.71,406.14L222.98,406.14L225.25,406.14L227.52,406.14L229.8,406.14L232.07,406.14L234.34,406.14L236.61,406.14L238.88,406.14L241.15,406.14L243.43,406.14L245.7,406.14L247.97,406.14L250.24,406.14L252.51,406.14L254.78,406.14L257.06,406.14L259.33,406.14L261.6,406.14L263.87,406.14L266.14,406.14L268.42,406.14L270.69,406.14L272.96,406.14L275.23,406.14L277.5,406.14L279.77,406.14L282.05,406.14L284.32,406.14L286.59,406.14L288.86,406.14L291.13,406.14L293.4,406.14L295.68,406.14L297.95,406.14L300.22,406.14L302.49,406.14L304.76,406.14L307.04,406.14L309.31,406.14L311.58,406.14L313.85,406.14L316.12,406.14L318.39,406.14L320.67,406.14L322.94,406.14L325.21,406.14L327.48,406.14L329.75,406.14L332.02,406.14L334.3,406.14L336.57,406.14L338.84,406.14L341.11,406.14L343.38,406.14L345.66,406.14L347.93,406.14L350.2,406.14L352.47,406.14L354.74,406.14L357.01,406.14L359.29,406.14L361.56,406.14L363.83,406.14L366.1,406.14L368.37,406.14L370.64,406.14L372.92,406.14L375.19,406.14L377.46,406.14L379.73,406.14L382,406.14L384.28,406.14L386.55,406.14L388.82,406.14L391.09,406.14L393.36,406.14L395.63,406.14L397.91,406.14L400.18,406.14L402.45,406.14L404.72,406.14L406.99,406.14L409.26,406.14L411.54,406.14L413.81,406.14L416.08,406.14L418.35,406.14L420.62,406.14L422.9,406.14L425.17,406.14L427.44,406.14L429.71,406.14L431.98,406.14L434.25,406.14L436.53,406.14L438.8,406.14L441.07,406.14L443.34,406.14L445.61,406.14L447.88,406.14L450.16,406.14L452.43,406.14L454.7,406.14" stroke="#b40000"/>
</g>
<path d="M300,542.9 C291.5,457.9 268.6,414.2 225,382.7" fill="none" stroke="#000" stroke-width="1.3"/>
<path d="M222.5,380.8L230.63,384.24L228.28,387.47Z" fill="#000"/>
<text x="239" y="390.4" font-size="15.5" text-anchor="start" fill="#000">Wi increases</text>
<text x="218.5" y="616.1" font-size="23" letter-spacing="0.45">Wi&gt;Wi<tspan dx="0.8" dy="2.5" font-size="17.3">min</tspan></text>
<text x="-0.4" y="641.9" font-size="18" text-anchor="start" fill="#1818a8">(b)</text>
<line x1="335.7" y1="537.6" x2="375.1" y2="537.6" stroke="#000" stroke-width="2.1" stroke-dasharray="14.2 2.2 3.8 2.2 3.8 2.2 11 0"/>
<text x="383.7" y="540.9" font-size="16" letter-spacing="0.15">Wi=Wi<tspan dx="0.5" dy="3" font-size="12" letter-spacing="0">min</tspan></text>
<line x1="335.7" y1="562.8" x2="375.1" y2="562.8" stroke="#00a800" stroke-width="2.1" stroke-dasharray="9.9 5.7"/>
<text x="383.7" y="567.1" font-size="16" text-anchor="start" fill="#000">Wi=1</text>
<line x1="335.7" y1="588" x2="372.9" y2="588" stroke="#0000b4" stroke-width="2.1" stroke-dasharray="17.3 2.5"/>
<text x="383.7" y="592.9" font-size="16" text-anchor="start" fill="#000">Wi=10</text>
<line x1="335.7" y1="613.1" x2="375.1" y2="613.1" stroke="#b40000" stroke-width="2.1"/>
<text x="383.7" y="618.1" font-size="16" text-anchor="start" fill="#000">Wi=100</text>
</g>
</svg>
</body></html>
